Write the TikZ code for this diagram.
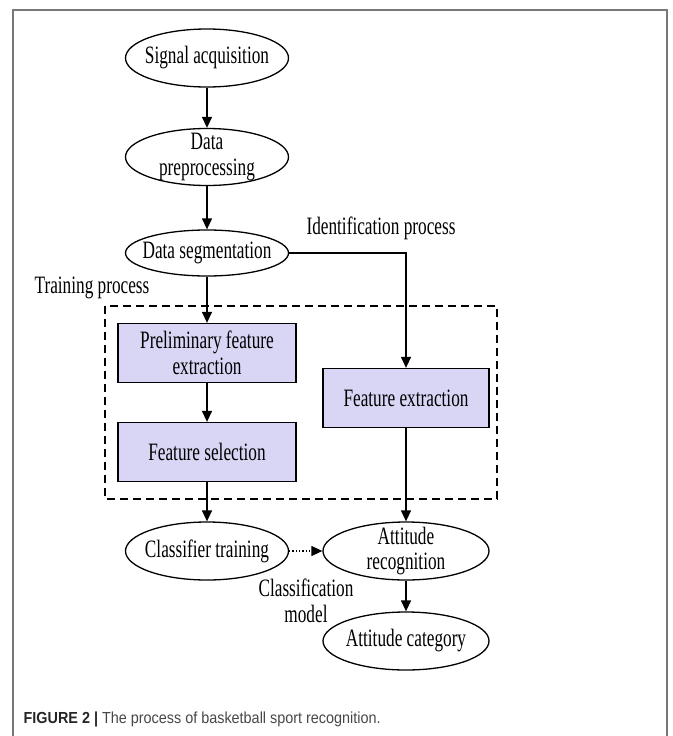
\documentclass[tikz,border=0pt]{standalone}
\usepackage{fontspec}
\setmainfont{Liberation Serif}[FakeStretch=0.69]
\newfontfamily\capfont{Liberation Sans}[FakeStretch=0.9]
\usetikzlibrary{arrows.meta,shapes.geometric}
\definecolor{boxfill}{RGB}{217,214,245}
\definecolor{framegray}{RGB}{120,120,120}

\begin{document}
\begin{tikzpicture}[x=1pt,y=-1pt,
    font=\fontsize{25}{25.5}\selectfont,
    line width=1.3pt,
    >={Triangle[length=11pt,width=10pt]},
    oval/.style={ellipse,draw,inner xsep=-20pt,inner ysep=-16pt,
        minimum width=163pt,minimum height=58pt,align=center},
    procbox/.style={rectangle,draw,fill=boxfill,inner sep=0pt,
        minimum width=178pt,minimum height=59pt,align=center}]
    \useasboundingbox (0,0) rectangle (672,736);

    % Outer frame (open at the bottom)
    \draw[framegray, line width=1.5pt] (13,736) -- (13,10) -- (667,10) -- (667,736);

    % Upper chain
    \node[oval] (sigacq) at (207,58) {Signal acquisition};
    \node[oval,minimum height=57pt] (prepro) at (207,157) {Data\\preprocessing};
    \node[oval,minimum height=46pt] (dataseg) at (207,253) {Data segmentation};

    % Process labels
    \node (idproc) at (381,228) {Identification process};
    \node (trproc) at (92,288) {Training process};

    % Dashed region
    \draw[dash pattern=on 8pt off 5pt] (105,306) rectangle (497,499);

    % Boxes
    \node[procbox] (prelim) at (207,353) {Preliminary feature\\extraction};
    \node[procbox] (featsel) at (207,452) {Feature selection};
    \node[procbox,minimum width=166pt] (featext) at (406,398) {Feature extraction};

    % Lower ellipses
    \node[oval] (clftrain) at (207,551) {Classifier training};
    \node[oval,minimum width=166pt] (attrec) at (406,551) {Attitude\\recognition};
    \node[oval,minimum width=166pt] (attcat) at (406,641) {Attitude category};
    \node[align=center] (clfmodel) at (306,601) {Classification\\model};

    % Arrows
    \draw[->] (sigacq) -- (prepro);
    \draw[->] (prepro) -- (dataseg);
    \draw[->] (dataseg) -- (prelim);
    \draw[->] (prelim) -- (featsel);
    \draw[->] (featsel) -- (clftrain);
    \draw[->] (dataseg.east) -| (featext.north);
    \draw[->] (featext) -- (attrec);
    \draw[->] (attrec) -- (attcat);
    \draw[->, dotted] (clftrain) -- (attrec);

    % Caption
    \node[anchor=base west, inner sep=0pt, text=black!85,
        font=\capfont\fontsize{16}{19}\selectfont] (caption) at (23,723)
        {\textbf{FIGURE 2 |} \textcolor{black!72}{The process of basketball sport recognition.}};
\end{tikzpicture}
\end{document}
